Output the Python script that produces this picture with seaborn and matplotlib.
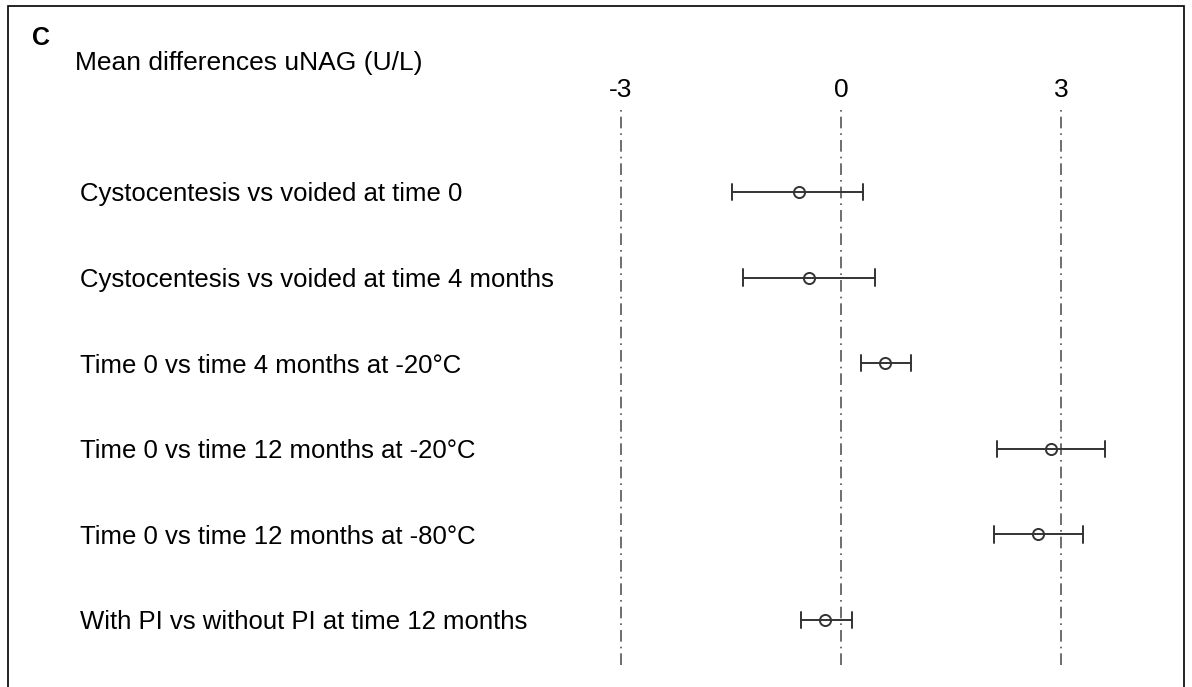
import numpy as np
import pandas as pd
import seaborn as sns
import matplotlib.pyplot as plt
from matplotlib.patches import Rectangle

# comparisons, top to bottom
comparisons = [
    "Cystocentesis vs voided at time 0",
    "Cystocentesis vs voided at time 4 months",
    "Time 0 vs time 4 months at -20\u00b0C",
    "Time 0 vs time 12 months at -20\u00b0C",
    "Time 0 vs time 12 months at -80\u00b0C",
    "With PI vs without PI at time 12 months",
]
mean_diff = [-0.57, -0.44, 0.60, 2.86, 2.69, -0.22]
ci_low = [-1.48, -1.33, 0.27, 2.13, 2.09, -0.55]
ci_high = [0.30, 0.47, 0.95, 3.60, 3.30, 0.15]
ticks = [-3, 0, 3]

# long table: low / mean / high per row, median = mean, min/max = CI
df = pd.DataFrame({
    "comparison": np.repeat(comparisons, 3),
    "value": np.ravel(np.column_stack([ci_low, mean_diff, ci_high])),
})

sns.set_theme(style="white")
plt.rcParams["font.family"] = ["Liberation Sans", "DejaVu Sans"]
plt.rcParams["text.color"] = "black"
plt.rcParams["xtick.color"] = "black"
plt.rcParams["ytick.color"] = "black"

W, H = 1192, 687
fig = plt.figure(figsize=(W / 100, H / 100), dpi=100)
ax = fig.add_axes([580 / W, 1 - 665 / H, 550 / W, 560 / H])

for t in ticks:
    ax.axvline(t, color="#555555", lw=1.2, ls=(0, (7, 3, 1, 3)), zorder=1)

sns.pointplot(data=df, x="value", y="comparison", order=comparisons,
              estimator="median", errorbar=lambda v: (v.min(), v.max()),
              orient="h", linestyle="none", capsize=0.19, color="#333333",
              marker="o", markersize=8, markerfacecolor="none",
              markeredgewidth=1.4, err_kws={"linewidth": 1.4}, ax=ax)

ax.set_xlim((580 - 841) / 73.33, (1130 - 841) / 73.33)
ax.set_ylim(5.526, -1.016)
ax.set_xticks(ticks)
ax.set_xticklabels([str(t) for t in ticks], fontsize=19)
ax.xaxis.tick_top()
ax.tick_params(axis="x", length=0, pad=2)
ax.tick_params(axis="y", length=0, pad=360, labelsize=18.5)
for lab in ax.get_yticklabels():
    lab.set_horizontalalignment("left")
ax.set_xlabel("")
ax.set_ylabel("")
for s in ax.spines.values():
    s.set_visible(False)
ax.set_facecolor("none")

fig.text(32 / W, 1 - 38 / H, "C", fontsize=18, fontweight="bold", va="center")
fig.text(75 / W, 1 - 63 / H, "Mean differences uNAG (U/L)", fontsize=19,
         va="center")
fig.add_artist(Rectangle((8 / W, -0.02), 1176 / W, 1.02 - 6 / H,
                         transform=fig.transFigure, fill=False,
                         edgecolor="black", lw=1.2))

fig.savefig("out.png", dpi=100)
